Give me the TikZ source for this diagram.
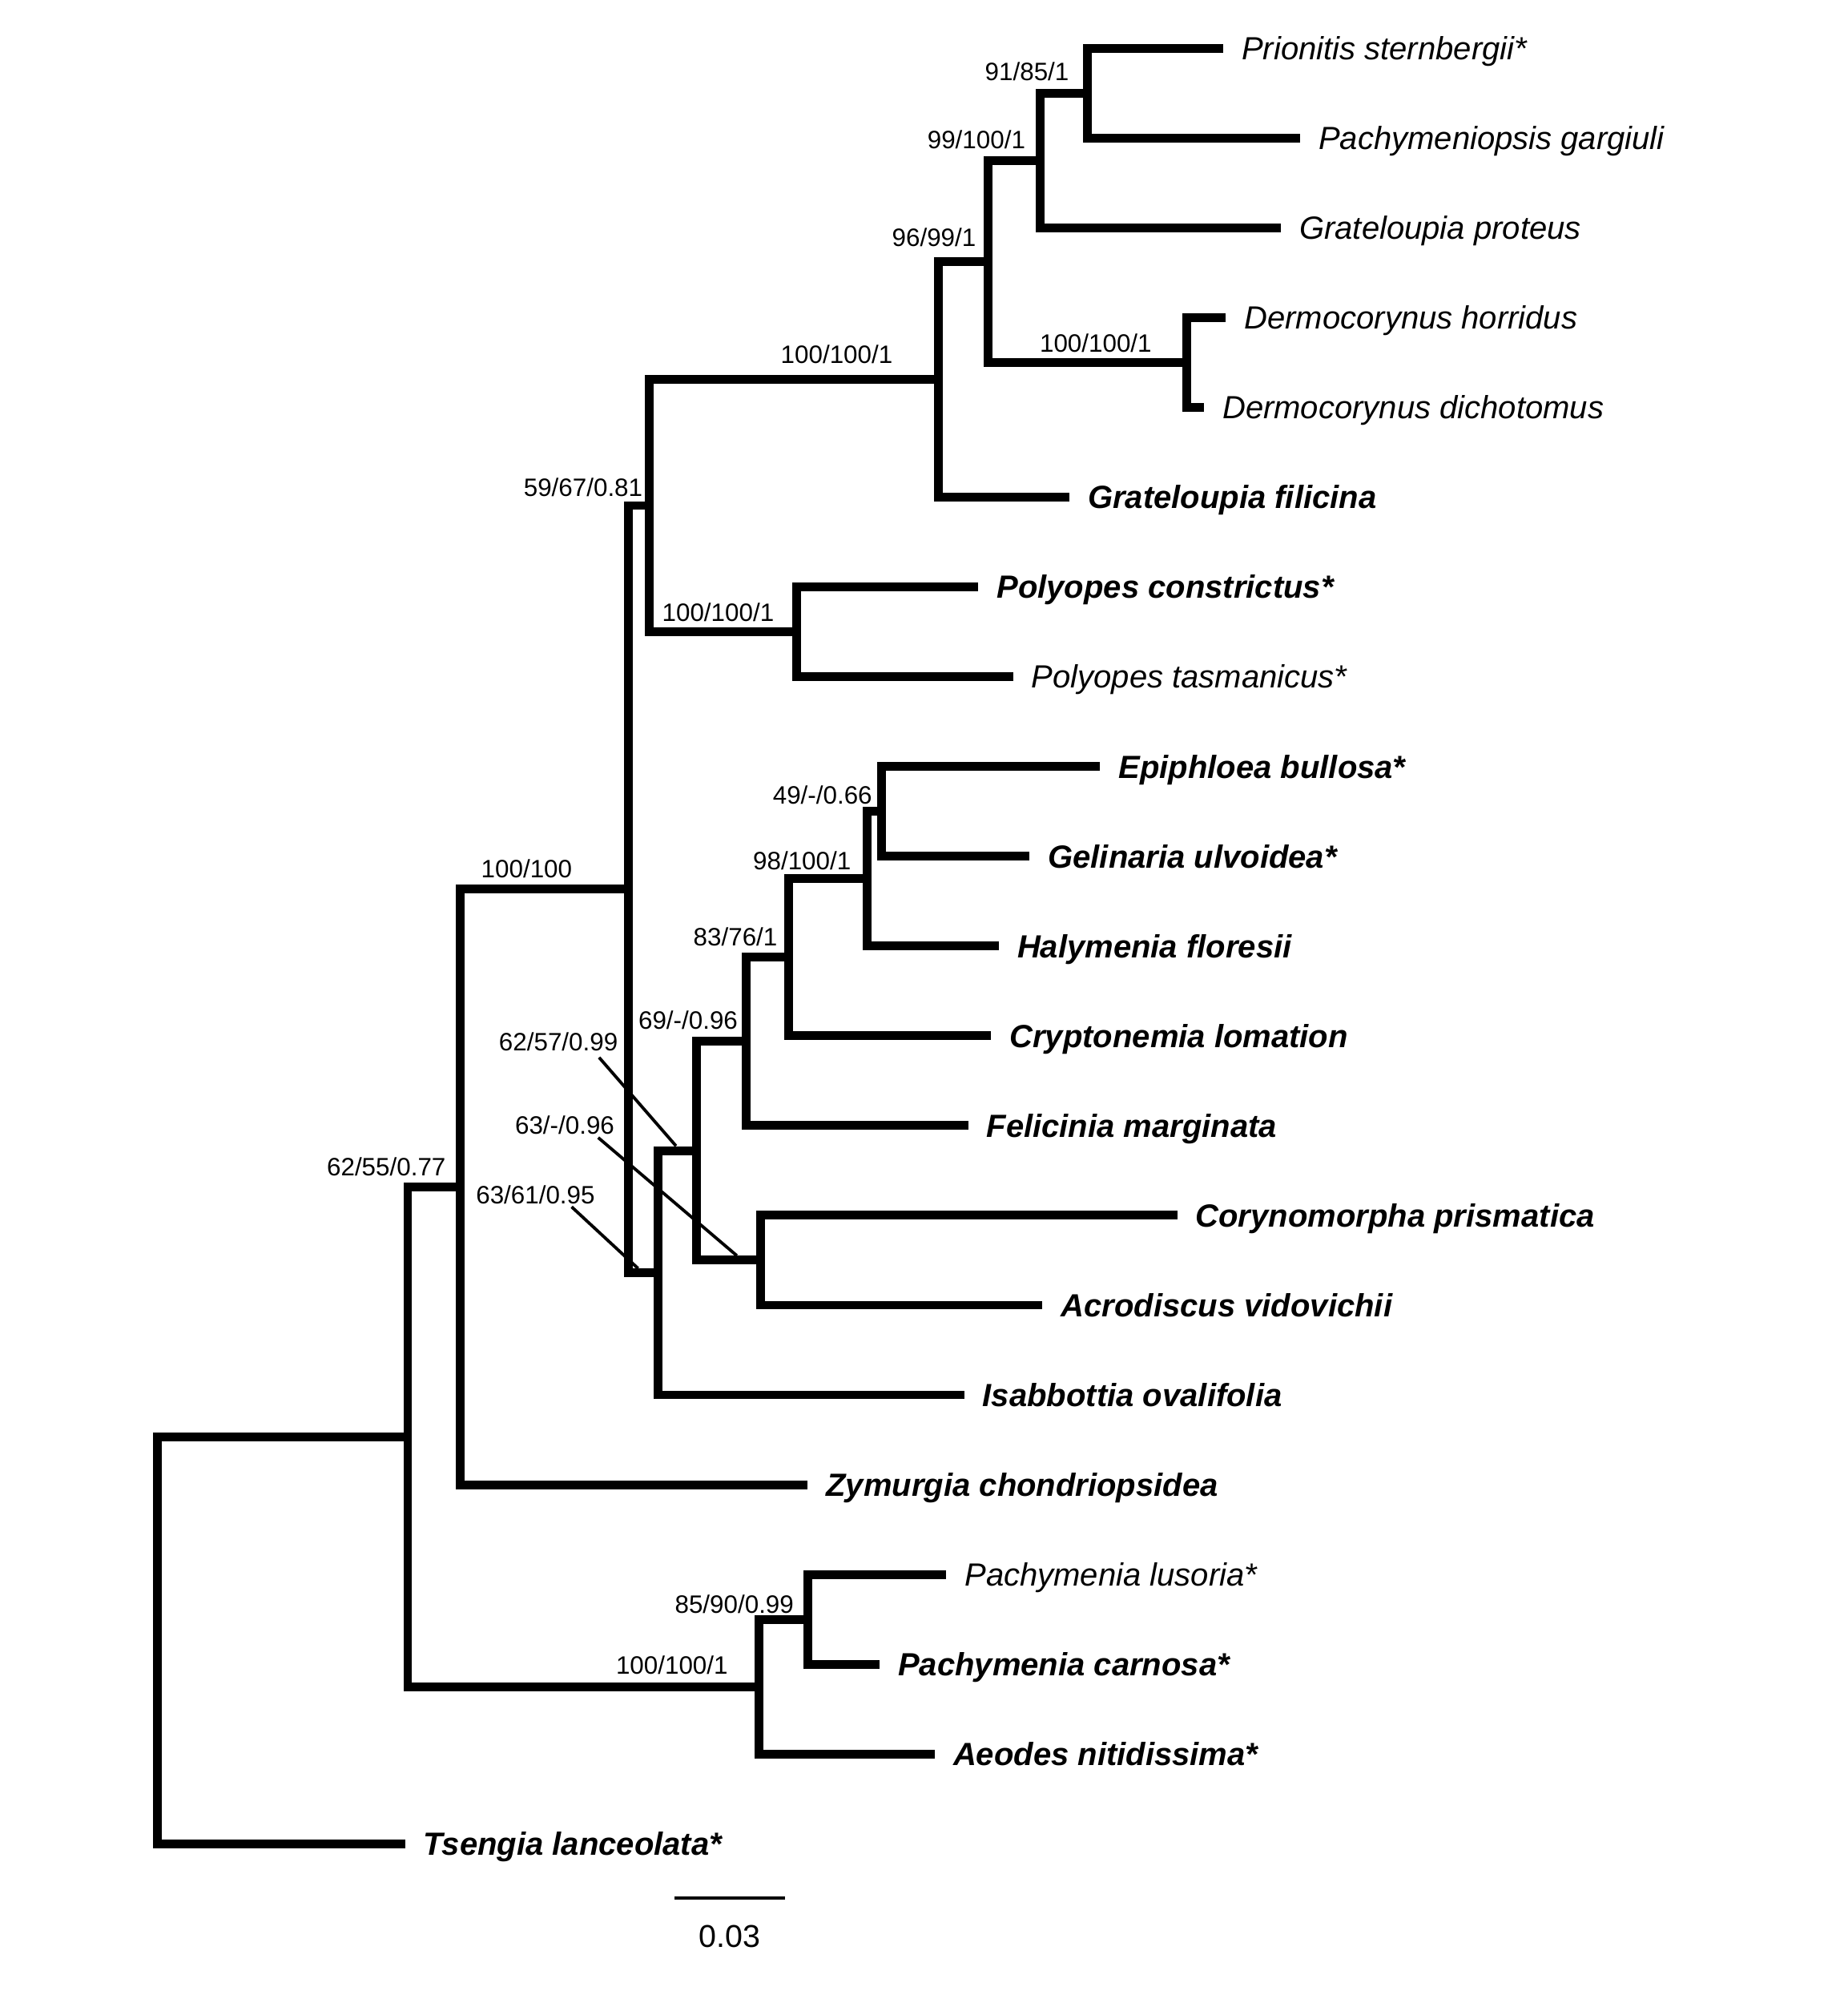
\documentclass[tikz,border=0pt]{standalone}
\usepackage{fontspec}
\setmainfont{Liberation Sans}
\usetikzlibrary{calc}

\begin{document}
\begin{tikzpicture}[
  x=0.5pt, y=-0.5pt,
  branch/.style={draw, line width=3.4pt, line join=miter},
  leader/.style={draw, line width=1.2pt},
  supp/.style={anchor=base east, inner sep=0pt, font=\fontsize{9.8}{11}\selectfont},
  taxon/.style={anchor=base west, inner sep=0pt, font=\fontsize{12.5}{15}\selectfont\itshape}
]
\useasboundingbox (0,0) rectangle (1441,1568);

% tips
\foreach \k/\nm/\xe/\txt in {
  0/prio/954/{Prionitis sternbergii*},
  1/pgar/1014/{Pachymeniopsis gargiuli},
  2/gpro/999/{Grateloupia proteus},
  3/dhor/956/{Dermocorynus horridus},
  4/ddic/939/{Dermocorynus dichotomus},
  5/gfil/834/{\bfseries Grateloupia filicina},
  6/pcon/763/{\bfseries Polyopes constrictus*},
  7/ptas/790/{Polyopes tasmanicus*},
  8/ebul/858/{\bfseries Epiphloea bullosa*},
  9/gulv/803/{\bfseries Gelinaria ulvoidea*},
  10/hflo/779/{\bfseries Halymenia floresii},
  11/clom/773/{\bfseries Cryptonemia lomation},
  12/fmar/755/{\bfseries Felicinia marginata},
  13/cpri/918/{\bfseries Corynomorpha prismatica},
  14/avid/813/{\bfseries Acrodiscus vidovichii},
  15/iova/752/{\bfseries Isabbottia ovalifolia},
  16/zcho/630/{\bfseries Zymurgia chondriopsidea},
  17/plus/738/{Pachymenia lusoria*},
  18/pcar/686/{\bfseries Pachymenia carnosa*},
  19/anit/729/{\bfseries Aeodes nitidissima*},
  20/tlan/316/{\bfseries Tsengia lanceolata*}}
{
  \coordinate (\nm) at (\xe, {37.6+70*\k});
  \node[taxon] (\nm-lab) at ($(\nm)+(14,9)$) {\txt};
}

% inner nodes
\coordinate (cPri) at (848, 72.6);
\coordinate (cGpr) at (811, 125.1);
\coordinate (cDer) at (925.5, 282.6);
\coordinate (cGra) at (770.5, 203.85);
\coordinate (cGfi) at (732, 295.7);
\coordinate (cPol) at (621, 492.6);
\coordinate (cUpp) at (506.5, 394.2);
\coordinate (cEpi) at (687.5, 632.6);
\coordinate (cHal) at (676, 685.1);
\coordinate (cCry) at (615, 746.35);
\coordinate (cFel) at (582, 812);
\coordinate (cCor) at (593, 982.6);
\coordinate (cMid) at (543, 897.3);
\coordinate (cIsa) at (513, 992.4);
\coordinate (cHlm) at (490, 693.3);
\coordinate (cZym) at (359, 925.4);
\coordinate (cPac) at (630, 1262.6);
\coordinate (cAeo) at (592, 1315.1);
\coordinate (cIng) at (318, 1120.25);
\coordinate (root) at (123, 1278.9);

\foreach \p/\c in {root/cIng, root/tlan, cIng/cZym, cIng/cAeo,
  cAeo/cPac, cAeo/anit, cPac/plus, cPac/pcar,
  cZym/cHlm, cZym/zcho, cHlm/cUpp, cHlm/cIsa,
  cUpp/cGfi, cUpp/cPol, cPol/pcon, cPol/ptas,
  cGfi/cGra, cGfi/gfil, cGra/cGpr, cGra/cDer, cDer/dhor, cDer/ddic,
  cGpr/cPri, cGpr/gpro, cPri/prio, cPri/pgar,
  cIsa/cMid, cIsa/iova, cMid/cFel, cMid/cCor, cCor/cpri, cCor/avid,
  cFel/cCry, cFel/fmar, cCry/cHal, cCry/clom, cHal/cEpi, cHal/hflo,
  cEpi/ebul, cEpi/gulv}
  \draw[branch] (\p) |- (\c);

% support values
\node[supp] (sPri) at ($(cPri)+(-14,-10)$) {91/85/1};
\node[supp] (sGpr) at ($(cGpr)+(-11,-9)$) {99/100/1};
\node[supp] (sGra) at ($(cGra)+(-9,-11.5)$) {96/99/1};
\node[supp] (sDer) at ($(cDer)+(-27,-8)$) {100/100/1};
\node[supp] (sGfi) at ($(cGfi)+(-35.5,-12.5)$) {100/100/1};
\node[supp] (sUpp) at ($(cUpp)+(-5,-7.5)$) {59/67/0.81};
\node[supp] (sPol) at ($(cPol)+(-17,-8)$) {100/100/1};
\node[supp] (sEpi) at ($(cEpi)+(-7,-6)$) {49/-/0.66};
\node[supp] (sHal) at ($(cHal)+(-12,-7)$) {98/100/1};
\node[supp] (sCry) at ($(cCry)+(-8.4,-9)$) {83/76/1};
\node[supp] (sFel) at ($(cFel)+(-6.3,-9.4)$) {69/-/0.96};
\node[supp] (sHlm) at ($(cHlm)+(-43.5,-8.7)$) {100/100};
\node[supp] (sZym) at ($(cZym)+(-11,-8.4)$) {62/55/0.77};
\node[supp] (sPac) at ($(cPac)+(-10.6,-5)$) {85/90/0.99};
\node[supp] (sAeo) at ($(cAeo)+(-24,-9.7)$) {100/100/1};

\node[supp] (sMid) at (482.2, 819.5) {62/57/0.99};
\node[supp] (sCor) at (479.5, 884.5) {63/-/0.96};
\node[supp] (sIsa) at (464.3, 938.5) {63/61/0.95};
\coordinate (mMid) at (527.2, 893.5);
\coordinate (mCor) at (574.6, 979);
\coordinate (mIsa) at (497.6, 989);
\draw[leader] ([shift={(-15,5)}]sMid.base east) -- (mMid);
\draw[leader] ([shift={(-13,2.5)}]sCor.base east) -- (mCor);
\draw[leader] ([shift={(-18.5,2.5)}]sIsa.base east) -- (mIsa);

% scale
\coordinate (sbl) at (526,1480);
\coordinate (sbr) at (612,1480);
\draw[line width=1.4pt] (sbl) -- (sbr);
\node[anchor=base, inner sep=0pt, font=\fontsize{12.3}{14}\selectfont] (sbt) at (569,1518.4) {0.03};
\end{tikzpicture}
\end{document}
